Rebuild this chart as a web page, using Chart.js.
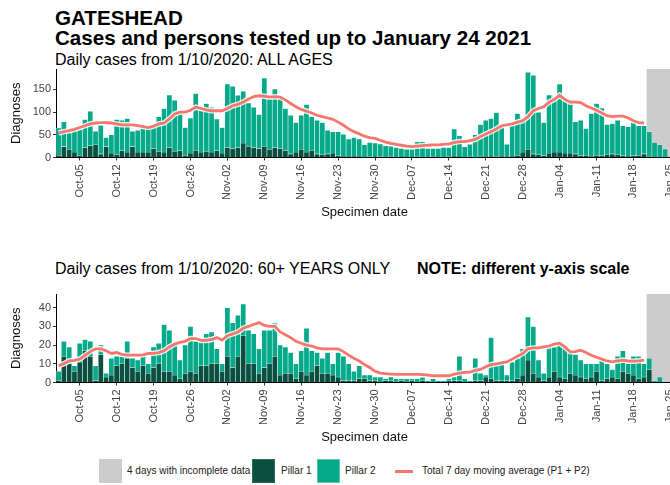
<!DOCTYPE html>
<html>
<head>
<meta charset="utf-8">
<script src="https://cdn.jsdelivr.net/npm/chart.js@4.4.1/dist/chart.umd.min.js"></script>
<style>
  html, body { margin: 0; padding: 0; background: #fff; }
  body { width: 670px; height: 485px; overflow: hidden; position: relative;
         font-family: "Liberation Sans", Arial, sans-serif; color: #000; }
  .txt { position: absolute; white-space: nowrap; line-height: 1; }
  .title { font-weight: bold; font-size: 20.6px; left: 55px; }
  .sub { font-size: 16px; }
  .panel { position: absolute; left: 0; width: 673px; height: 155px; }
  .key { position: absolute; top: 459px; width: 23px; height: 24px; box-sizing: border-box; }
  .ktxt { position: absolute; top: 466px; font-size: 10px; line-height: 1; color: #222; white-space: nowrap; }
</style>
</head>
<body>
<div class="txt title" style="top:7.6px">GATESHEAD</div>
<div class="txt title" style="top:27.6px">Cases and persons tested up to January 24 2021</div>
<div class="txt sub" style="top:52px;left:55px">Daily cases from 1/10/2020: ALL AGES</div>
<div class="txt sub" style="top:260.5px;left:55px">Daily cases from 1/10/2020: 60+ YEARS ONLY</div>
<div class="txt sub" style="top:260.5px;left:417px;font-weight:bold">NOTE: different y-axis scale</div>

<div class="panel" style="top:69px"><canvas id="chartTodos"></canvas></div>
<div class="panel" style="top:294px"><canvas id="chart60"></canvas></div>

<div class="key" style="left:99px;background:#cccccc"></div>
<div class="ktxt" style="left:127px">4 days with incomplete data</div>
<div class="key" style="left:252px;background:#0a5040;border:1px solid #2e6b5c"></div>
<div class="ktxt" style="left:281px">Pillar 1</div>
<div class="key" style="left:317px;background:#05aa8a;border:1px solid #5cc7b0"></div>
<div class="ktxt" style="left:345px">Pillar 2</div>
<div style="position:absolute;left:395px;top:469.5px;width:18px;height:3px;background:#f8766d"></div>
<div class="ktxt" style="left:422px">Total 7 day moving average (P1 + P2)</div>

<script>
// Días del eje: 1 oct 2020 a 25 ene 2021
const meses = [["Oct", 31], ["Nov", 30], ["Dec", 31], ["Jan", 25]];
const dias = [];
meses.forEach(([m, n]) => {
  for (let d = 1; d <= n; d++) dias.push(m + "-" + String(d).padStart(2, "0"));
});

const etiquetasEje = ["Oct-05", "Oct-12", "Oct-19", "Oct-26", "Nov-02", "Nov-09", "Nov-16", "Nov-23",
  "Nov-30", "Dec-07", "Dec-14", "Dec-21", "Dec-28", "Jan-04", "Jan-11", "Jan-18", "Jan-25"];
const inicioIncompleto = "Jan-21";

// Todas las edades
const todosPilar1 = [
  5, 24, 18, 12, 5, 22, 26, 28, 8, 24,
  10, 6, 15, 12, 24, 12, 12, 12, 20, 14,
  12, 22, 14, 15, 5, 10, 16, 12, 14, 12,
  15, 10, 22, 20, 22, 32, 25, 22, 20, 25,
  18, 22, 20, 15, 8, 12, 18, 12, 16, 8,
  6, 8, 10, 4, 3, 2, 3, 2, 1, 2,
  1, 2, 1, 2, 1, 0, 1, 1, 2, 1,
  1, 2, 1, 1, 2, 3, 2, 1, 2, 1,
  2, 3, 3, 2, 3, 1, 3, 5, 12, 18,
  8, 6, 4, 10, 12, 12, 10, 10, 8, 4,
  5, 3, 5, 4, 6, 8, 6, 4, 3, 4,
  5, 8, 2, 1, 1, 0
];
const todosPilar2 = [
  60, 55, 39, 48, 58, 62, 76, 30, 63, 20,
  40, 78, 67, 74, 34, 48, 52, 54, 47, 76,
  96, 116, 112, 85, 61, 77, 125, 92, 105, 99,
  70, 56, 140, 137, 115, 114, 95, 89, 75, 150,
  112, 129, 110, 93, 85, 65, 75, 105, 74, 74,
  71, 52, 47, 53, 48, 39, 41, 39, 27, 31,
  31, 28, 25, 23, 21, 20, 17, 17, 33, 34,
  19, 18, 19, 21, 20, 60, 46, 23, 27, 49,
  71, 79, 83, 97, 65, 28, 68, 92, 75, 170,
  173, 94, 73, 128, 119, 150, 116, 118, 71, 78,
  59, 94, 114, 105, 67, 67, 76, 66, 65, 73,
  65, 62, 55, 32, 27, 19
];
const todosMedia7 = [
  54, 57, 59, 62, 66, 70, 74, 76, 77, 77,
  76, 74, 72, 72, 72, 70, 68, 66, 69, 74,
  76, 85, 96, 100, 100, 104, 111, 108, 105, 103,
  103, 103, 108, 114, 117, 122, 129, 134, 136, 135,
  133, 134, 133, 127, 119, 112, 106, 102, 98, 93,
  90, 87, 84, 78, 71, 63, 57, 52, 47, 44,
  42, 38, 34, 31, 29, 27, 25, 24, 25, 26,
  27, 28, 28, 29, 30, 33, 35, 35, 37, 40,
  46, 52, 57, 63, 70, 72, 74, 78, 81, 90,
  103, 108, 112, 122, 128, 137, 128, 122, 122, 121,
  114, 109, 104, 98, 92, 90, 91, 91, 87, 81,
  77, 76
];

// Solo 60+ años
const mayoresPilar1 = [
  1, 14, 10, 6, 11, 17, 14, 1, 15, 3,
  4, 9, 10, 13, 8, 6, 9, 5, 8, 10,
  6, 6, 4, 2, 5, 6, 5, 9, 9, 10,
  10, 6, 14, 8, 14, 25, 10, 10, 5, 8,
  10, 14, 4, 5, 5, 2, 6, 4, 6, 9,
  5, 5, 4, 3, 1, 1, 1, 2, 2, 1,
  1, 0, 1, 1, 0, 1, 0, 1, 0, 1,
  0, 0, 0, 0, 1, 1, 1, 0, 0, 1,
  1, 3, 2, 1, 1, 1, 1, 2, 4, 12,
  5, 3, 1, 3, 6, 3, 2, 5, 4, 3,
  2, 3, 6, 1, 2, 3, 2, 6, 5, 4,
  2, 3, 7, 0, 0, 0
];
const mayoresPilar2 = [
  5, 8, 9, 3, 10, 6, 8, 8, 5, 2,
  9, 5, 4, 9, 5, 6, 5, 5, 11, 11,
  25, 22, 17, 10, 15, 24, 17, 13, 17, 17,
  8, 4, 26, 24, 22, 17, 18, 16, 13, 20,
  18, 18, 16, 14, 11, 8, 11, 25, 11, 7,
  8, 11, 6, 13, 13, 9, 5, 7, 2, 3,
  2, 3, 1, 2, 2, 1, 2, 1, 2, 2,
  1, 2, 1, 1, 1, 2, 13, 2, 1, 12,
  4, 1, 22, 9, 9, 3, 10, 11, 14, 23,
  25, 9, 4, 16, 13, 18, 17, 11, 11, 9,
  8, 7, 4, 11, 8, 4, 12, 11, 5, 10,
  12, 7, 6, 1, 3, 0
];
const mayoresMedia7 = [
  9, 10, 11.5, 11.8, 12.5, 14.5, 16.5, 18, 18, 17,
  15.5, 16, 15, 14.6, 14.6, 14.6, 14.8, 15.5, 15.6, 16,
  17, 19, 20.5, 21.5, 22, 23.5, 23.5, 22.5, 22.5, 23,
  24, 22.7, 25, 26, 27, 29, 30, 31, 32, 30.5,
  30, 30, 27, 25.5, 24, 22, 21, 20, 19.5, 18.5,
  18, 18, 18, 18, 16.5, 14.6, 13, 11.5, 9.6, 8,
  6, 5, 4.7, 4.5, 4.3, 4.3, 4.3, 4.3, 4.3, 4.2,
  4, 3.6, 3.6, 3.6, 3.6, 4.5, 5, 5.4, 5.5, 6.5,
  7, 8.4, 9.5, 10, 10.5, 11, 12.5, 14, 15.5, 18,
  18.5, 18.5, 19, 19.5, 20.5, 21, 19, 16.4, 16.5, 17.3,
  16, 14.6, 13.5, 12.5, 11.5, 11, 11.5, 12, 11.5, 11.4,
  11.6, 12
];

const FUENTE = "'Liberation Sans', Arial, sans-serif";

// Banda gris de los 4 días con datos incompletos
const bandaIncompleta = {
  id: "bandaIncompleta",
  beforeDatasetsDraw(chart) {
    const { ctx, chartArea, scales: { x } } = chart;
    const desde = x.getPixelForValue(dias.indexOf(inicioIncompleto) - 0.5);
    ctx.save();
    ctx.fillStyle = "#cccccc";
    ctx.fillRect(desde, chartArea.top, chartArea.right - desde, chartArea.bottom - chartArea.top - 0.5);
    ctx.restore();
  }
};

function crearPanel(idCanvas, pilar1, pilar2, media, maxY, pasoY) {
  return new Chart(document.getElementById(idCanvas), {
    data: {
      labels: dias,
      datasets: [
        { type: "bar", label: "Pillar 1", data: pilar1, stack: "casos", order: 2,
          backgroundColor: "#0a5040", borderColor: "rgba(255,255,255,0.35)", borderWidth: 0.6 },
        { type: "bar", label: "Pillar 2", data: pilar2, stack: "casos", order: 2,
          backgroundColor: "#05aa8a", borderColor: "rgba(255,255,255,0.45)", borderWidth: 0.6 },
        { type: "line", label: "Total 7 day moving average (P1 + P2)", data: media, stack: "media", order: 0,
          borderColor: "#f8766d", borderWidth: 2.8, pointRadius: 0, tension: 0 },
        { type: "line", label: "halo", data: media, stack: "halo", order: 1,
          borderColor: "rgba(255,255,255,0.85)", borderWidth: 5.5, pointRadius: 0, tension: 0 }
      ]
    },
    options: {
      responsive: true,
      maintainAspectRatio: false,
      animation: false,
      layout: { padding: 0 },
      datasets: { bar: { barPercentage: 1, categoryPercentage: 1 } },
      plugins: { legend: { display: false }, tooltip: { enabled: false }, title: { display: false } },
      scales: {
        x: {
          type: "category",
          offset: true,
          stacked: true,
          grid: {
            display: true, offset: false, drawOnChartArea: false, drawTicks: true, tickLength: 3,
            color: (c) => (c.tick && c.tick.label ? "#333" : "rgba(0,0,0,0)")
          },
          border: { display: true, color: "#000", width: 1 },
          ticks: {
            autoSkip: false, minRotation: 90, maxRotation: 90, padding: 4,
            color: "#444", font: { family: FUENTE, size: 11 },
            callback(valor) {
              const etiqueta = this.getLabelForValue(valor);
              return etiquetasEje.includes(etiqueta) ? etiqueta : "";
            }
          },
          title: { display: true, text: "Specimen date", color: "#111",
                   font: { family: FUENTE, size: 13 }, padding: { top: 0, bottom: 4 } },
          afterFit(escala) { escala.height = 66.5; escala.paddingLeft = 0; escala.paddingRight = 0; }
        },
        y: {
          stacked: true,
          min: 0,
          max: maxY,
          grid: { display: true, drawOnChartArea: false, drawTicks: true, tickLength: 3, color: "#333" },
          border: { display: true, color: "#000", width: 1 },
          ticks: { stepSize: pasoY, includeBounds: false, padding: 2,
                   color: "#444", font: { family: FUENTE, size: 11 } },
          title: { display: true, text: "Diagnoses", color: "#111",
                   font: { family: FUENTE, size: 13 }, padding: { top: 9, bottom: 0 } },
          afterFit(escala) { escala.width = 56; escala.paddingTop = 0; escala.paddingBottom = 0; }
        }
      }
    },
    plugins: [bandaIncompleta]
  });
}

crearPanel("chartTodos", todosPilar1, todosPilar2, todosMedia7, 195, 50);
crearPanel("chart60", mayoresPilar1, mayoresPilar2, mayoresMedia7, 47.3, 10);
</script>
</body>
</html>
